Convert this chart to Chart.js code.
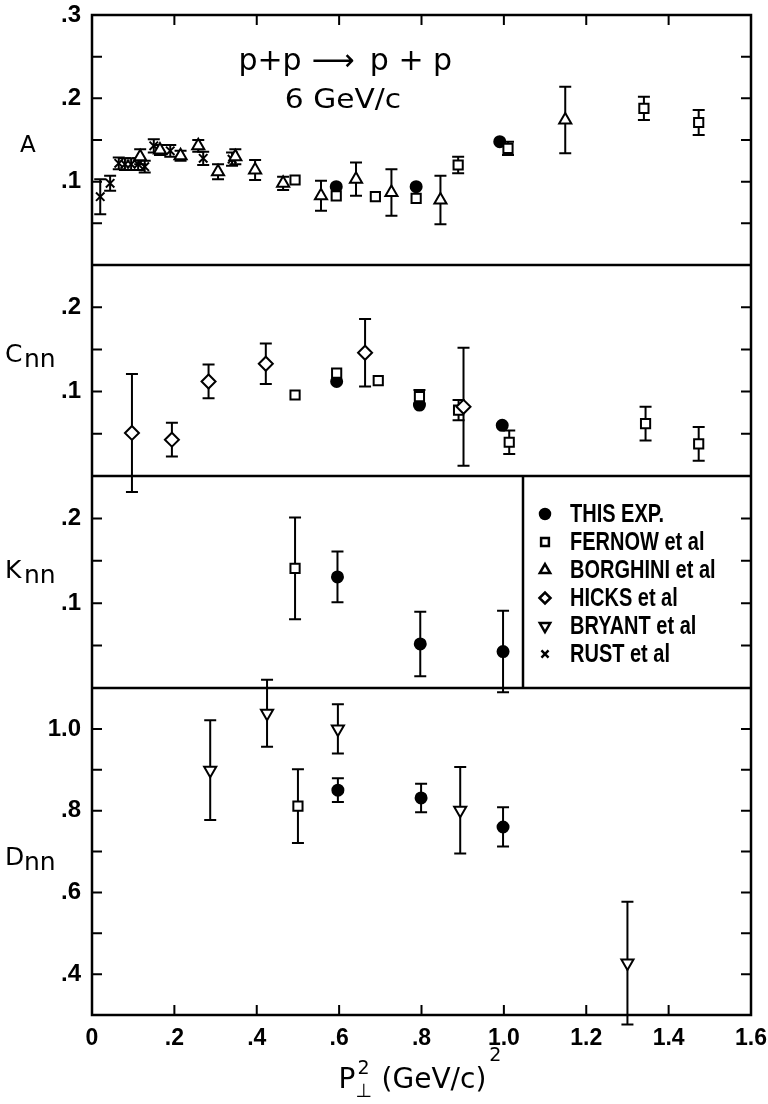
<!DOCTYPE html>
<html>
<head>
<meta charset="utf-8">
<script src="https://cdn.jsdelivr.net/npm/chart.js@4.4.1/dist/chart.umd.min.js"></script>
<style>
html, body { margin: 0; padding: 0; background: #fff; }
</style>
</head>
<body>
<canvas id="spin" width="768" height="1104"></canvas>
<script>
// tick labels
var xTickVals = [0, 0.2, 0.4, 0.6, 0.8, 1.0, 1.2, 1.4, 1.6];
var xTickText = ['0', '.2', '.4', '.6', '.8', '1.0', '1.2', '1.4', '1.6'];
var aTickVals = [0.1, 0.2, 0.3];
var aTickText = ['.1', '.2', '.3'];
var cTickVals = [0.1, 0.2];
var cTickText = ['.1', '.2'];
var kTickVals = [0.1, 0.2];
var kTickText = ['.1', '.2'];
var dTickVals = [0.4, 0.6, 0.8, 1.0];
var dTickText = ['.4', '.6', '.8', '1.0'];

var seriesNames = ['THIS EXP.', 'FERNOW et al', 'BORGHINI et al', 'HICKS et al', 'BRYANT et al', 'RUST et al'];

// A
var aThisX = [0.593, 0.787, 0.99];
var aThisY = [0.094, 0.094, 0.148];
var aThisE = [0, 0, 0];
var aFernowX = [0.493, 0.593, 0.688, 0.787, 0.889, 1.01, 1.34, 1.473];
var aFernowY = [0.102, 0.083, 0.082, 0.080, 0.120, 0.140, 0.188, 0.171];
var aFernowE = [0, 0, 0, 0, 0.010, 0.008, 0.014, 0.015];
var aBorgX = [0.117, 0.165, 0.215, 0.258, 0.306, 0.348, 0.396, 0.464, 0.556, 0.641, 0.727, 0.846, 1.149];
var aBorgY = [0.130, 0.138, 0.131, 0.143, 0.112, 0.130, 0.114, 0.098, 0.083, 0.103, 0.087, 0.078, 0.174];
var aBorgE = [0.009, 0.006, 0.006, 0.007, 0.009, 0.009, 0.012, 0.008, 0.018, 0.020, 0.028, 0.029, 0.040];
var aRustX = [0.02, 0.044, 0.065, 0.08, 0.095, 0.112, 0.128, 0.15, 0.19, 0.27, 0.34];
var aRustY = [0.082, 0.098, 0.122, 0.121, 0.121, 0.121, 0.118, 0.143, 0.137, 0.128, 0.127];
var aRustE = [0.021, 0.009, 0.007, 0.007, 0.007, 0.007, 0.007, 0.008, 0.007, 0.008, 0.008];

// Cnn
var cThisX = [0.594, 0.795, 0.996];
var cThisY = [0.112, 0.084, 0.060];
var cThisE = [0, 0, 0];
var cFernowX = [0.493, 0.594, 0.695, 0.795, 0.89, 1.013, 1.344, 1.473];
var cFernowY = [0.096, 0.122, 0.113, 0.094, 0.078, 0.040, 0.062, 0.038];
var cFernowE = [0, 0, 0, 0.008, 0.012, 0.014, 0.020, 0.020];
var cHicksX = [0.097, 0.194, 0.283, 0.422, 0.663, 0.902];
var cHicksY = [0.051, 0.043, 0.112, 0.133, 0.146, 0.082];
var cHicksE = [0.070, 0.020, 0.020, 0.024, 0.040, 0.070];

// Knn
var kThisX = [0.596, 0.797, 0.998];
var kThisY = [0.131, 0.052, 0.043];
var kThisE = [0.030, 0.038, 0.048];
var kFernowX = [0.493];
var kFernowY = [0.141];
var kFernowE = [0.060];

// Dnn
var dThisX = [0.597, 0.799, 0.998];
var dThisY = [0.850, 0.831, 0.760];
var dThisE = [0.029, 0.035, 0.048];
var dFernowX = [0.5];
var dFernowY = [0.811];
var dFernowE = [0.090];
var dBryantX = [0.287, 0.425, 0.597, 0.894, 1.3];
var dBryantY = [0.899, 1.038, 1.000, 0.801, 0.427];
var dBryantE = [0.122, 0.082, 0.060, 0.106, 0.150];

var seriesShapes = ['circle', 'rect', 'triangle', 'rectRot', 'triangle', 'crossRot'];
var seriesRot = [0, 0, 0, 0, 180, 0];
var seriesFill = ['#000', '#fff', '#fff', '#fff', '#fff', '#000'];
var seriesRadius = [5.5, 6.5, 7, 7, 7, 6];
var legendRadius = [5, 5.5, 6, 5.5, 6, 5];

var sansFont = '"Liberation Sans", Arial, sans-serif';
var letterFont = '"DejaVu Sans", sans-serif';

function pickLabel(v, vals, text){
    for (var i = 0; i < vals.length; i++) {
        if (Math.abs(vals[i] - v) < 1e-6) return text[i];
    }
    return '';
}

function makeSet(s, axis, xs, ys, es){
    return {
        label: seriesNames[s],
        yAxisID: axis,
        data: xs.map(function(x, i){ return {x: x, y: ys[i]}; }),
        errors: es,
        showLine: false,
        clip: false,
        pointStyle: seriesShapes[s],
        pointRotation: seriesRot[s],
        pointRadius: seriesRadius[s],
        pointHoverRadius: seriesRadius[s],
        pointBackgroundColor: seriesFill[s],
        pointBorderColor: '#000',
        pointBorderWidth: 2
    };
}

function yScale(weight, min, max, step, vals, text){
    return {
        type: 'linear',
        position: 'left',
        stack: 'panels',
        stackWeight: weight,
        min: min,
        max: max,
        grid: {display: false, drawTicks: false},
        border: {display: false},
        ticks: {
            stepSize: step,
            autoSkip: false,
            padding: 11,
            color: '#000',
            font: {family: sansFont, size: 24, weight: 'bold'},
            callback: function(v){ return pickLabel(v, vals, text); }
        },
        afterFit: function(s){
            s.width = 92;
            s.paddingTop = 0;
            s.paddingBottom = 0;
        }
    };
}

// squeezed text, to get the narrow lettering of the original
function narrowText(ctx, str, x, y, sx){
    ctx.save();
    ctx.translate(x, y);
    ctx.scale(sx, 1);
    ctx.fillText(str, 0, 0);
    ctx.restore();
}

var panelLabels = [
    {axis: 'yA', big: 'A', small: '', pos: 0.548},
    {axis: 'yC', big: 'C', small: 'nn', pos: 0.46},
    {axis: 'yK', big: 'K', small: 'nn', pos: 0.48},
    {axis: 'yD', big: 'D', small: 'nn', pos: 0.54}
];

var plotStyle = {
    id: 'plotStyle',
    beforeDatasetsDraw: function(chart){
        var ctx = chart.ctx;
        var xs = chart.scales.x;
        ctx.save();
        ctx.strokeStyle = '#000';
        ctx.lineWidth = 2;
        chart.data.datasets.forEach(function(ds){
            var ys = chart.scales[ds.yAxisID];
            ds.data.forEach(function(p, j){
                var e = ds.errors[j];
                if (!e) return;
                var px = xs.getPixelForValue(p.x);
                var t = ys.getPixelForValue(p.y + e);
                var b = ys.getPixelForValue(p.y - e);
                ctx.beginPath();
                ctx.moveTo(px, t); ctx.lineTo(px, b);
                ctx.moveTo(px - 6, t); ctx.lineTo(px + 6, t);
                ctx.moveTo(px - 6, b); ctx.lineTo(px + 6, b);
                ctx.stroke();
            });
        });
        ctx.restore();
    },
    afterDraw: function(chart){
        var ctx = chart.ctx;
        var area = chart.chartArea;
        var xs = chart.scales.x;
        ctx.save();
        ctx.strokeStyle = '#000';
        ctx.fillStyle = '#000';
        ctx.lineWidth = 2.5;

        // frame and panel separators
        ctx.strokeRect(area.left, area.top, area.right - area.left, area.bottom - area.top);
        ['yC', 'yK', 'yD'].forEach(function(id){
            var s = chart.scales[id];
            ctx.beginPath();
            ctx.moveTo(area.left, s.top);
            ctx.lineTo(area.right, s.top);
            ctx.stroke();
        });

        // inward ticks
        ctx.lineWidth = 2;
        ['yA', 'yC', 'yK', 'yD'].forEach(function(id){
            var s = chart.scales[id];
            s.ticks.forEach(function(t){
                if (t.value <= s.min + 1e-6 || t.value >= s.max - 1e-6) return;
                var py = s.getPixelForValue(t.value);
                ctx.beginPath();
                ctx.moveTo(area.left, py); ctx.lineTo(area.left + 10, py);
                ctx.moveTo(area.right, py); ctx.lineTo(area.right - 10, py);
                ctx.stroke();
            });
        });
        xs.ticks.forEach(function(t){
            if (t.value <= xs.min + 1e-6 || t.value >= xs.max - 1e-6) return;
            var px = xs.getPixelForValue(t.value);
            ctx.beginPath();
            ctx.moveTo(px, area.top); ctx.lineTo(px, area.top + 10);
            ctx.moveTo(px, area.bottom); ctx.lineTo(px, area.bottom - 10);
            ctx.stroke();
        });

        // legend box inside the Knn panel
        var kScale = chart.scales.yK;
        var lx = area.right - 228;
        ctx.lineWidth = 2.5;
        ctx.beginPath();
        ctx.moveTo(lx, kScale.top);
        ctx.lineTo(lx, kScale.bottom);
        ctx.stroke();
        ctx.font = 'bold 25px ' + sansFont;
        ctx.textAlign = 'left';
        ctx.textBaseline = 'middle';
        for (var i = 0; i < seriesNames.length; i++) {
            var ly = kScale.top + 38 + i * 28;
            ctx.fillStyle = seriesFill[i];
            ctx.strokeStyle = '#000';
            Chart.helpers.drawPoint(ctx, {
                pointStyle: seriesShapes[i],
                rotation: seriesRot[i],
                radius: legendRadius[i],
                borderWidth: 2
            }, lx + 22, ly);
            ctx.fillStyle = '#000';
            narrowText(ctx, seriesNames[i], lx + 47, ly + 1, 0.8);
        }

        // panel labels
        ctx.textBaseline = 'alphabetic';
        panelLabels.forEach(function(p){
            var s = chart.scales[p.axis];
            var yb = s.top + p.pos * (s.bottom - s.top);
            if (!p.small) {
                ctx.font = '23px ' + letterFont;
                ctx.fillText(p.big, 20, yb);
                return;
            }
            ctx.font = '25px ' + letterFont;
            ctx.fillText(p.big, 5, yb);
            ctx.fillText(p.small, 24, yb + 5);
        });

        // reaction title
        ctx.textAlign = 'center';
        ctx.font = '30px ' + letterFont;
        ctx.fillText('p+p', 270, 70);
        ctx.fillText('\u27F6', 333, 70);
        ctx.fillText('p + p', 411, 70);
        ctx.save();
        ctx.translate(343, 108);
        ctx.scale(1.1, 1);
        ctx.font = '27px ' + letterFont;
        ctx.fillText('6 GeV/c', 0, 0);
        ctx.restore();

        // x axis title: P_perp^2 (GeV/c)^2
        var cx = (area.left + area.right) / 2;
        var big = '28px ' + letterFont;
        var sup = '19px ' + letterFont;
        ctx.textAlign = 'left';
        ctx.font = big;
        var wP = ctx.measureText('P').width;
        var wU = ctx.measureText('(GeV/c)').width;
        ctx.font = sup;
        var wS = ctx.measureText('2').width + 6;
        var total = wP + wS + 8 + wU + wS;
        var x0 = cx - total / 2;
        var yBase = 1088;
        ctx.font = big;
        ctx.fillText('P', x0, yBase);
        ctx.fillText('(GeV/c)', x0 + wP + wS + 8, yBase);
        ctx.font = sup;
        ctx.fillText('\u22A5', x0 + wP, yBase + 9);
        ctx.textBaseline = 'top';
        ctx.fillText('2', x0 + wP + 2, yBase - 28);
        ctx.fillText('2', x0 + wP + wS + 8 + wU + 3, yBase - 41);
        ctx.restore();
    }
};

var datasets = [
    makeSet(2, 'yA', aBorgX, aBorgY, aBorgE),
    makeSet(5, 'yA', aRustX, aRustY, aRustE),
    makeSet(1, 'yA', aFernowX, aFernowY, aFernowE),
    makeSet(0, 'yA', aThisX, aThisY, aThisE),
    makeSet(3, 'yC', cHicksX, cHicksY, cHicksE),
    makeSet(1, 'yC', cFernowX, cFernowY, cFernowE),
    makeSet(0, 'yC', cThisX, cThisY, cThisE),
    makeSet(1, 'yK', kFernowX, kFernowY, kFernowE),
    makeSet(0, 'yK', kThisX, kThisY, kThisE),
    makeSet(4, 'yD', dBryantX, dBryantY, dBryantE),
    makeSet(1, 'yD', dFernowX, dFernowY, dFernowE),
    makeSet(0, 'yD', dThisX, dThisY, dThisE)
];

var ctx = document.getElementById('spin').getContext('2d');
window.spinChart = new Chart(ctx, {
    type: 'scatter',
    data: {datasets: datasets},
    plugins: [plotStyle],
    options: {
        responsive: false,
        animation: false,
        events: [],
        layout: {padding: {left: 0, right: 17, top: 15, bottom: 0}},
        plugins: {legend: {display: false}, tooltip: {enabled: false}},
        scales: {
            x: {
                type: 'linear',
                position: 'bottom',
                min: 0,
                max: 1.6,
                grid: {display: false, drawTicks: false},
                border: {display: false},
                ticks: {
                    stepSize: 0.2,
                    autoSkip: false,
                    maxRotation: 0,
                    padding: 10,
                    color: '#000',
                    font: {family: sansFont, size: 23, weight: 'bold'},
                    callback: function(v){ return pickLabel(v, xTickVals, xTickText); }
                },
                afterFit: function(s){
                    s.height = 89;
                    s.paddingLeft = 0;
                    s.paddingRight = 0;
                }
            },
            yD: yScale(327, 0.3, 1.1, 0.1, dTickVals, dTickText),
            yK: yScale(212, 0, 0.25, 0.05, kTickVals, kTickText),
            yC: yScale(211, 0, 0.25, 0.05, cTickVals, cTickText),
            yA: yScale(250, 0, 0.3, 0.05, aTickVals, aTickText)
        }
    }
});
</script>
</body>
</html>
